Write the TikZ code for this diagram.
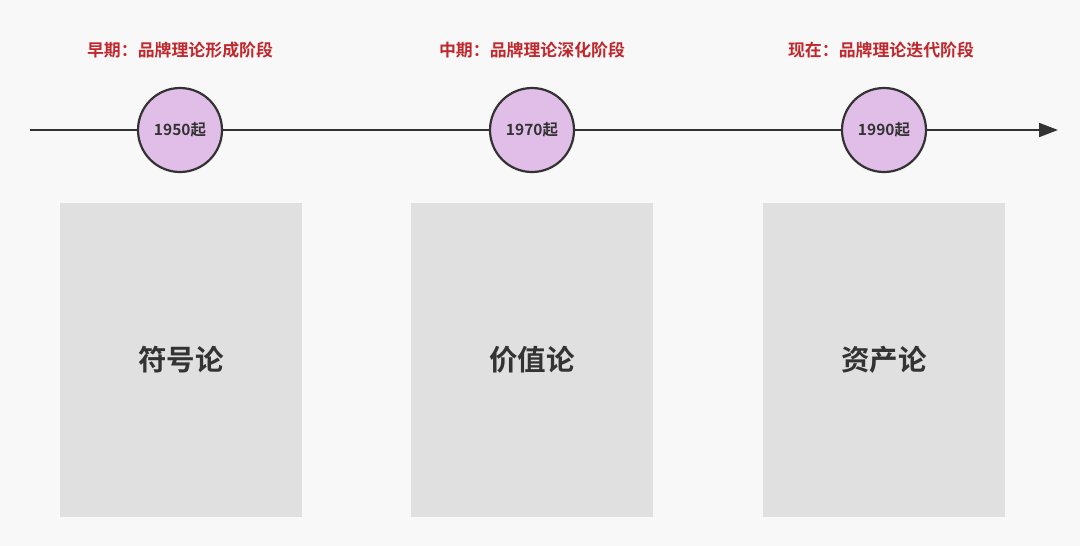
\documentclass[tikz,border=0pt]{standalone}
\usepackage{fontspec}
\setmainfont{Noto Sans CJK SC}[BoldFont={Noto Sans CJK SC Bold}]
\usetikzlibrary{arrows.meta}
\definecolor{bg}{HTML}{F8F8F8}
\definecolor{ink}{HTML}{333333}
\definecolor{lilac}{HTML}{E1BEE7}
\definecolor{boxgray}{HTML}{E0E0E0}
\definecolor{titlered}{HTML}{C0282D}
\begin{document}
\begin{tikzpicture}[x=1pt,y=-1pt,
  yearnode/.style={circle,draw=ink,line width=2.2pt,fill=lilac,minimum size=84pt,inner sep=0pt,
    font=\bfseries\fontsize{15.5}{18}\selectfont,text=ink},
  phase/.style={font=\bfseries\fontsize{16.9}{20}\selectfont,text=titlered},
  theory/.style={rectangle,fill=boxgray,minimum width=242pt,minimum height=314pt,inner sep=0pt,
    font=\bfseries\fontsize{28.5}{32}\selectfont,text=ink},
  axis/.style={draw=ink,line width=2pt}]
\fill[bg] (0,0) rectangle (1080,546);
\useasboundingbox (0,0) rectangle (1080,546);
\coordinate (start) at (30,130);
\coordinate (end) at (1058,130);
\node[yearnode] (c1) at (180,130) {1950起};
\node[yearnode] (c2) at (532,130) {1970起};
\node[yearnode] (c3) at (884,130) {1990起};
\draw[axis] (start) -- (c1);
\draw[axis] (c1) -- (c2);
\draw[axis] (c2) -- (c3);
\draw[axis,-{Triangle[length=19pt,width=14pt]}] (c3) -- (end);
\node[phase] (t1) at (180,50) {早期：品牌理论形成阶段};
\node[phase] (t2) at (532,50) {中期：品牌理论深化阶段};
\node[phase] (t3) at (881,50) {现在：品牌理论迭代阶段};
\node[theory] (b1) at (181,360) {符号论};
\node[theory] (b2) at (532,360) {价值论};
\node[theory] (b3) at (884,360) {资产论};
\end{tikzpicture}
\end{document}
